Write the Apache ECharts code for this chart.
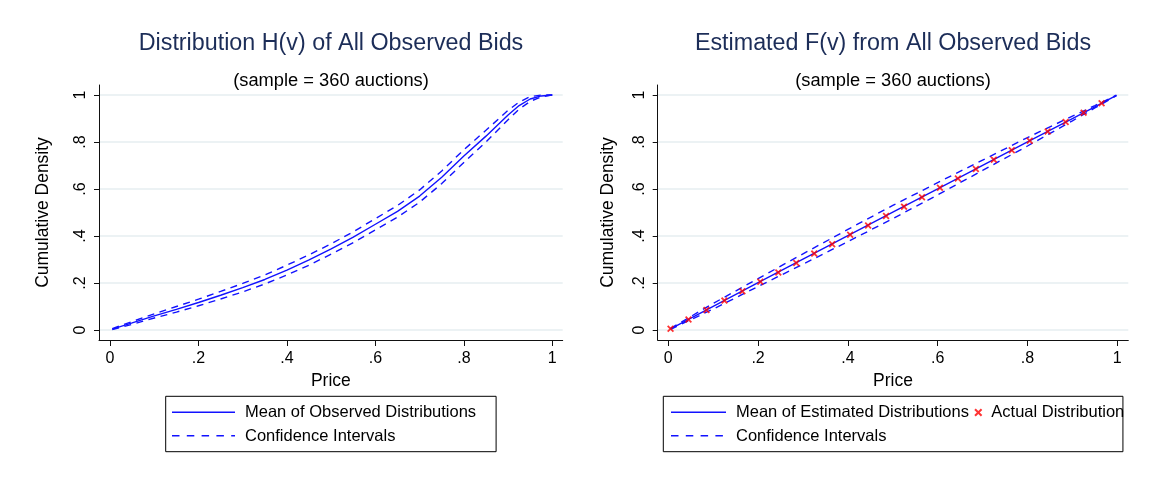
<!DOCTYPE html>
<html>
<head>
<meta charset="utf-8">
<script src="https://cdn.jsdelivr.net/npm/echarts@6/dist/echarts.min.js"></script>
<style>
  html, body { margin: 0; padding: 0; background: #ffffff; }
  #chart { width: 1154px; height: 478px; }
</style>
</head>
<body>
<div id="chart"></div>
<script>
// Shared tick positions and their printed labels (both axes, both panels)
const tickValues = [0, 0.2, 0.4, 0.6, 0.8, 1];
const tickLabels = ['0', '.2', '.4', '.6', '.8', '1'];

// Left panel: distribution of observed bids H(v)
const hPrice = [0.005, 0.05, 0.1, 0.15, 0.2, 0.25, 0.3, 0.35, 0.4, 0.45, 0.5, 0.55, 0.6, 0.65, 0.7, 0.75, 0.8, 0.85, 0.9, 0.925, 0.95, 0.975, 1.0];
const hMean  = [0.004, 0.030, 0.060, 0.088, 0.117, 0.148, 0.180, 0.215, 0.255, 0.298, 0.345, 0.395, 0.450, 0.505, 0.570, 0.650, 0.740, 0.825, 0.915, 0.955, 0.983, 0.996, 1.0];
const hUpper = [0.006, 0.036, 0.069, 0.100, 0.131, 0.164, 0.198, 0.234, 0.276, 0.320, 0.367, 0.418, 0.474, 0.530, 0.596, 0.677, 0.767, 0.850, 0.935, 0.970, 0.993, 1.0, 1.0];
const hLower = [0.002, 0.024, 0.051, 0.076, 0.103, 0.132, 0.162, 0.196, 0.234, 0.276, 0.323, 0.372, 0.426, 0.480, 0.544, 0.623, 0.713, 0.800, 0.895, 0.940, 0.973, 0.992, 1.0];

// Right panel: estimated value distribution F(v)
const fPrice = [0.005, 0.1, 0.2, 0.3, 0.4, 0.5, 0.6, 0.7, 0.8, 0.9, 0.95, 0.998];
const fMean  = [0.005, 0.101, 0.202, 0.302, 0.402, 0.502, 0.601, 0.701, 0.801, 0.900, 0.950, 0.998];
const fUpper = [0.007, 0.113, 0.219, 0.324, 0.428, 0.530, 0.627, 0.723, 0.819, 0.910, 0.955, 0.999];
const fLower = [0.003, 0.089, 0.185, 0.280, 0.376, 0.474, 0.575, 0.679, 0.783, 0.890, 0.945, 0.997];

// True (uniform) distribution sampled on a grid
const actualPrice = [0.005, 0.045, 0.085, 0.125, 0.165, 0.205, 0.245, 0.285, 0.325, 0.365, 0.405, 0.445, 0.485, 0.525, 0.565, 0.605, 0.645, 0.685, 0.725, 0.765, 0.805, 0.845, 0.885, 0.925, 0.965];
const actualCdf   = [0.005, 0.045, 0.085, 0.125, 0.165, 0.205, 0.245, 0.285, 0.325, 0.365, 0.405, 0.445, 0.485, 0.525, 0.565, 0.605, 0.645, 0.685, 0.725, 0.765, 0.805, 0.845, 0.885, 0.925, 0.965];

const FONT = '"Liberation Sans", Arial, Helvetica, sans-serif';
const BLUE = '#1212ff';
const RED = '#ff0000';
const AXIS = '#111111';
const GRIDLINE = '#e6eef0';
const DASH = [7, 5.5];
const KEY_DASH = [7.5, 7.3];
const CROSS = 'path://M0,1.8 L1.8,0 L5,3.2 L8.2,0 L10,1.8 L6.8,5 L10,8.2 L8.2,10 L5,6.8 L1.8,10 L0,8.2 L3.2,5 Z';

const zip = (xs, ys) => xs.map((x, i) => [x, ys[i]]);
const tickText = v => {
  const i = tickValues.findIndex(t => Math.abs(t - v) < 1e-9);
  return i >= 0 ? tickLabels[i] : '';
};

function xAxisFor(gridIndex, min, max) {
  return {
    type: 'value', gridIndex, min, max,
    name: 'Price', nameLocation: 'middle', nameGap: 26,
    nameTextStyle: { fontFamily: FONT, fontSize: 17.5, color: '#000' },
    axisLine: { show: true, onZero: false, lineStyle: { color: AXIS, width: 1 } },
    axisTick: { show: true, length: 6, customValues: tickValues, lineStyle: { color: AXIS, width: 1 } },
    axisLabel: { customValues: tickValues, formatter: tickText, fontFamily: FONT, fontSize: 16, color: '#000', margin: 11 },
    splitLine: { show: false }
  };
}

function yAxisFor(gridIndex, nameGap) {
  return {
    type: 'value', gridIndex, min: -0.0426, max: 1.0426,
    name: 'Cumulative Density', nameLocation: 'middle', nameGap,
    nameTextStyle: { fontFamily: FONT, fontSize: 17.5, color: '#000' },
    axisLine: { show: true, onZero: false, lineStyle: { color: AXIS, width: 1 } },
    axisTick: { show: true, length: 5, customValues: tickValues, lineStyle: { color: AXIS, width: 1 } },
    axisLabel: { customValues: tickValues, formatter: tickText, rotate: 90, fontFamily: FONT, fontSize: 16, color: '#000', margin: 10 },
    splitLine: { show: true, lineStyle: { color: GRIDLINE, width: 1.5 } }
  };
}

function lineSeries(name, axisIndex, data, dashed) {
  return {
    type: 'line', name, xAxisIndex: axisIndex, yAxisIndex: axisIndex,
    data, symbol: 'none', smooth: false,
    color: BLUE,
    lineStyle: { color: BLUE, width: 1.4, type: dashed ? DASH : 'solid' },
    emphasis: { disabled: true }
  };
}

// Legend key strokes: the legend's own icons are kept invisible and these
// strokes sit in the icon slots so the dash pattern of the keys is exact.
function keyStroke(x1, x2, y, dashed) {
  return {
    type: 'line', silent: true, z: 100,
    shape: { x1, y1: y, x2, y2: y },
    style: { stroke: BLUE, lineWidth: 1.6, lineDash: dashed ? KEY_DASH : null }
  };
}

const titleStyle = { fontFamily: FONT, fontSize: 23.3, fontWeight: 'normal', color: '#1c2d58' };
const subStyle = { fontFamily: FONT, fontSize: 18.3, fontWeight: 'normal', color: '#000' };
const legendText = { fontFamily: FONT, fontSize: 16.5, color: '#000', padding: [0, 0, 0, 5] };
const hiddenIcon = { color: 'rgba(0,0,0,0)', borderWidth: 0, opacity: 0 };

const option = {
  animation: false,
  backgroundColor: '#ffffff',
  title: [
    { text: 'Distribution H(v) of All Observed Bids', left: 331, top: 32.5, textAlign: 'center', padding: 0, textStyle: titleStyle },
    { text: '(sample = 360 auctions)', left: 331, top: 72, textAlign: 'center', padding: 0, textStyle: subStyle },
    { text: 'Estimated F(v) from All Observed Bids', left: 893, top: 32.5, textAlign: 'center', padding: 0, textStyle: titleStyle },
    { text: '(sample = 360 auctions)', left: 893, top: 72, textAlign: 'center', padding: 0, textStyle: subStyle }
  ],
  grid: [
    { left: 99, top: 85, width: 463.7, height: 255 },
    { left: 657.7, top: 85, width: 470.6, height: 255 }
  ],
  xAxis: [xAxisFor(0, -0.025, 1.0235), xAxisFor(1, -0.0236, 1.0245)],
  yAxis: [yAxisFor(0, 47), yAxisFor(1, 41)],
  legend: [
    {
      data: ['Mean of Observed Distributions', 'Confidence Intervals'],
      orient: 'vertical', left: 165.7, top: 396.3, icon: 'rect',
      padding: [7.7, 20, 6.7, 6.3], itemWidth: 63, itemHeight: 14, itemGap: 7,
      itemStyle: hiddenIcon, lineStyle: { opacity: 0 },
      borderColor: '#000', borderWidth: 1, textStyle: legendText
    },
    {
      data: ['Mean of Estimated Distributions', 'Confidence Intervals'],
      orient: 'vertical', left: 663.3, top: 396.3, icon: 'rect',
      padding: [7.7, 154, 6.7, 7.7], itemWidth: 55, itemHeight: 14, itemGap: 7,
      itemStyle: hiddenIcon, lineStyle: { opacity: 0 },
      borderColor: '#000', borderWidth: 1, textStyle: legendText
    },
    {
      data: ['Actual Distribution'],
      orient: 'horizontal', left: 974.3, top: 404,
      padding: 0, itemWidth: 8, itemHeight: 8,
      textStyle: { fontFamily: FONT, fontSize: 16.5, color: '#000', padding: [0, 0, 0, 4] }
    }
  ],
  graphic: [
    keyStroke(172, 235, 412.3, false),
    keyStroke(172, 235, 435.7, true),
    keyStroke(671, 726, 412.3, false),
    keyStroke(671, 723.5, 435.7, true)
  ],
  series: [
    lineSeries('Mean of Observed Distributions', 0, zip(hPrice, hMean), false),
    lineSeries('Confidence Intervals', 0, zip(hPrice, hUpper), true),
    lineSeries('Confidence Intervals', 0, zip(hPrice, hLower), true),
    lineSeries('Mean of Estimated Distributions', 1, zip(fPrice, fMean), false),
    lineSeries('Confidence Intervals', 1, zip(fPrice, fUpper), true),
    lineSeries('Confidence Intervals', 1, zip(fPrice, fLower), true),
    {
      type: 'scatter', name: 'Actual Distribution', xAxisIndex: 1, yAxisIndex: 1,
      data: zip(actualPrice, actualCdf), symbol: CROSS, symbolSize: 7,
      itemStyle: { color: RED }, z: 5, emphasis: { disabled: true }
    }
  ]
};

const chart = echarts.init(document.getElementById('chart'), null, { renderer: 'canvas' });
chart.setOption(option);
</script>
</body>
</html>
